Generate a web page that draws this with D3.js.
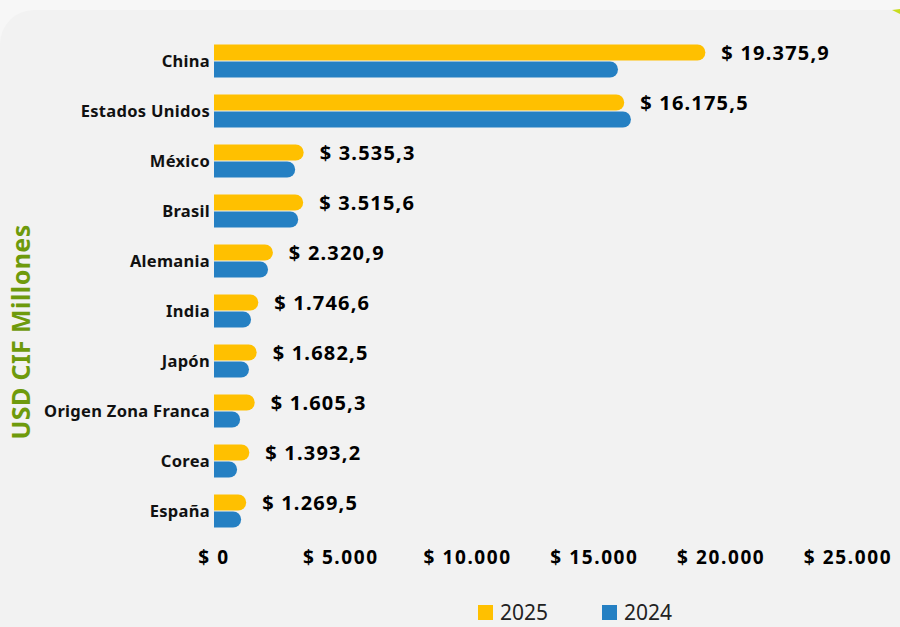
<!DOCTYPE html>
<html>
<head>
<meta charset="utf-8">
<script src="https://cdn.jsdelivr.net/npm/d3@7"></script>
<style>
  body { margin: 0; background: #f7f7f7; }
  svg { display: block; font-family: "Noto Sans", sans-serif; }
</style>
</head>
<body>
<div id="chart"></div>
<script>
// data
var categories = ["China", "Estados Unidos", "México", "Brasil", "Alemania", "India", "Japón", "Origen Zona Franca", "Corea", "España"];
var values2025 = [19375.9, 16175.5, 3535.3, 3515.6, 2320.9, 1746.6, 1682.5, 1605.3, 1393.2, 1269.5];
var values2024 = [15930, 16440, 3200, 3320, 2130, 1460, 1380, 1030, 910, 1070];
var valueLabels = ["$ 19.375,9", "$ 16.175,5", "$ 3.535,3", "$ 3.515,6", "$ 2.320,9", "$ 1.746,6", "$ 1.682,5", "$ 1.605,3", "$ 1.393,2", "$ 1.269,5"];
var tickValues = [0, 5000, 10000, 15000, 20000, 25000];
var tickLabels = ["$ 0", "$ 5.000", "$ 10.000", "$ 15.000", "$ 20.000", "$ 25.000"];
var seriesNames = ["2025", "2024"];
var colors = ["#ffc000", "#2580c3"];

var width = 900, height = 627;

var svg = d3.select("#chart").append("svg")
    .attr("width", width)
    .attr("height", height);

// background panel
svg.append("rect")
    .attr("width", width).attr("height", height)
    .attr("fill", "#f7f7f7");
svg.append("rect")
    .attr("x", 0).attr("y", 10)
    .attr("width", width + 40).attr("height", height + 40)
    .attr("rx", 34)
    .attr("fill", "#f2f2f2");
svg.append("path")
    .attr("d", "M892,10 L900,9 L900,14 Z")
    .attr("fill", "#c8dc1e");

// scales
var x = d3.scaleLinear().domain([0, 25000]).range([214, 848]);
var y = d3.scaleBand().domain(categories).range([36, 536]);

var barH = 16;

// bar with rounded right end
function roundBar(x0, x1, top, h) {
  var r = h / 2;
  var xe = Math.max(x0, x1 - r);
  return "M" + x0 + "," + top +
    "H" + xe +
    "A" + r + "," + r + " 0 0 1 " + xe + "," + (top + h) +
    "H" + x0 + "Z";
}

var rows = svg.append("g").selectAll("g")
    .data(categories)
    .enter().append("g");

rows.append("path")
    .attr("fill", colors[0])
    .attr("d", function(d, i) {
      var c = y(d) + y.bandwidth() / 2;
      return roundBar(x(0), x(values2025[i]), c - barH - 0.5, barH);
    });

rows.append("path")
    .attr("fill", colors[1])
    .attr("d", function(d, i) {
      var c = y(d) + y.bandwidth() / 2;
      return roundBar(x(0), x(values2024[i]), c + 0.5, barH);
    });

// category labels
rows.append("text")
    .attr("x", 210)
    .attr("y", function(d) { return y(d) + y.bandwidth() / 2; })
    .attr("dy", "0.35em")
    .attr("text-anchor", "end")
    .attr("font-size", 16.5)
    .attr("letter-spacing", 0.3)
    .attr("font-weight", "bold")
    .attr("fill", "#111")
    .text(function(d) { return d; });

// value labels
rows.append("text")
    .attr("x", function(d, i) { return x(values2025[i]) + 16; })
    .attr("y", function(d) { return y(d) + y.bandwidth() / 2 - 8; })
    .attr("dy", "0.35em")
    .attr("font-size", 20)
    .attr("letter-spacing", 1.2)
    .attr("font-weight", "bold")
    .attr("fill", "#000")
    .text(function(d, i) { return valueLabels[i]; });

// x axis labels
svg.append("g").selectAll("text")
    .data(tickValues)
    .enter().append("text")
    .attr("x", function(d) { return x(d); })
    .attr("y", 557)
    .attr("dy", "0.35em")
    .attr("text-anchor", "middle")
    .attr("font-size", 19)
    .attr("letter-spacing", 1.6)
    .attr("font-weight", "bold")
    .attr("fill", "#000")
    .text(function(d, i) { return tickLabels[i]; });

// y axis title
svg.append("text")
    .attr("transform", "translate(21,332) rotate(-90)")
    .attr("dy", "0.35em")
    .attr("text-anchor", "middle")
    .attr("font-size", 25)
    .attr("letter-spacing", 0.4)
    .attr("font-weight", "bold")
    .attr("fill", "#6e9a0c")
    .text("USD CIF Millones");

// legend
var legend = svg.append("g").selectAll("g")
    .data(seriesNames)
    .enter().append("g")
    .attr("transform", function(d, i) { return "translate(" + (478 + i * 124) + ",605)"; });

legend.append("rect")
    .attr("width", 15).attr("height", 15)
    .attr("fill", function(d, i) { return colors[i]; });

legend.append("text")
    .attr("x", 22).attr("y", 8)
    .attr("dy", "0.35em")
    .attr("font-size", 21)
    .attr("fill", "#222")
    .text(function(d) { return d; });
</script>
</body>
</html>
